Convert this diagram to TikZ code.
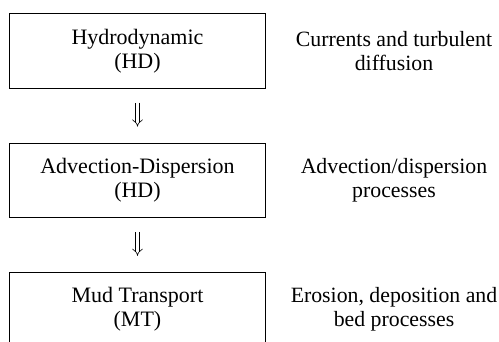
\documentclass[tikz,border=0pt]{standalone}
\usepackage{fontspec}
\setmainfont{Liberation Serif}
\usetikzlibrary{arrows.meta}

\begin{document}
\begin{tikzpicture}[x=1pt,y=1pt,line width=0.8pt,
    box/.style={rectangle,draw,minimum width=255.5pt,minimum height=74.5pt,
        align=center,font=\fontsize{22}{24}\selectfont},
    desc/.style={align=center,font=\fontsize{21.8}{24}\selectfont},
    flow/.style={double,double distance=3.2pt,line width=0.6pt,-{Implies[scale=1.5]},
        shorten <=14pt,shorten >=16pt}]

\useasboundingbox (0,0) rectangle (499,-341);

\node[box] (hd) at (137.5,-51) {Hydrodynamic\\(HD)};
\node[box] (ad) [below of=hd,node distance=129.2pt] {Advection-Dispersion\\(HD)};
\node[box] (mt) [below of=ad,node distance=129.2pt] {Mud Transport\\(MT)};

\node[desc] (hdtext) [right of=hd,node distance=256.5pt] {Currents and turbulent\\diffusion};
\node[desc] (adtext) [right of=ad,node distance=256.5pt] {Advection/dispersion\\processes};
\node[desc] (mttext) [right of=mt,node distance=256.5pt] {Erosion, deposition and\\bed processes};

\draw[flow] (hd) -- (ad);
\draw[flow] (ad) -- (mt);

\end{tikzpicture}
\end{document}
